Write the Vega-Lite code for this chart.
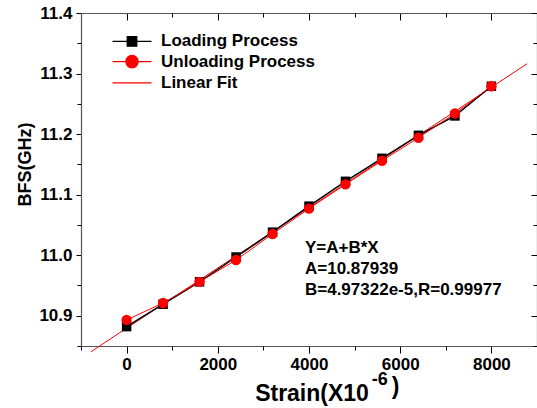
{
  "$schema": "https://vega.github.io/schema/vega-lite/v6.json",
  "width": 456,
  "height": 333,
  "autosize": {"type": "none"},
  "padding": {"left": 81, "top": 13, "right": 0, "bottom": 62},
  "background": "white",
  "config": {
    "view": {"stroke": null},
    "font": "Liberation Sans",
    "axis": {
      "grid": false,
      "labelFont": "Liberation Sans",
      "labelFontWeight": "bold",
      "labelFontSize": 17,
      "labelColor": "black",
      "titleFont": "Liberation Sans",
      "titleFontWeight": "bold",
      "titleColor": "black",
      "tickColor": "black",
      "tickWidth": 1,
      "domainColor": "#555555",
      "domainWidth": 1.2
    }
  },
  "data": {
    "values": [
      {"series": "Loading Process", "strain": 0, "bfs": 10.882},
      {"series": "Loading Process", "strain": 800, "bfs": 10.919},
      {"series": "Loading Process", "strain": 1600, "bfs": 10.956},
      {"series": "Loading Process", "strain": 2400, "bfs": 10.997},
      {"series": "Loading Process", "strain": 3200, "bfs": 11.038},
      {"series": "Loading Process", "strain": 4000, "bfs": 11.081},
      {"series": "Loading Process", "strain": 4800, "bfs": 11.122},
      {"series": "Loading Process", "strain": 5600, "bfs": 11.160},
      {"series": "Loading Process", "strain": 6400, "bfs": 11.198},
      {"series": "Loading Process", "strain": 7200, "bfs": 11.230},
      {"series": "Loading Process", "strain": 8000, "bfs": 11.279},
      {"series": "Unloading Process", "strain": 0, "bfs": 10.893},
      {"series": "Unloading Process", "strain": 800, "bfs": 10.921},
      {"series": "Unloading Process", "strain": 1600, "bfs": 10.956},
      {"series": "Unloading Process", "strain": 2400, "bfs": 10.992},
      {"series": "Unloading Process", "strain": 3200, "bfs": 11.035},
      {"series": "Unloading Process", "strain": 4000, "bfs": 11.077},
      {"series": "Unloading Process", "strain": 4800, "bfs": 11.117},
      {"series": "Unloading Process", "strain": 5600, "bfs": 11.156},
      {"series": "Unloading Process", "strain": 6400, "bfs": 11.194},
      {"series": "Unloading Process", "strain": 7200, "bfs": 11.234},
      {"series": "Unloading Process", "strain": 8000, "bfs": 11.279},
      {"series": "Linear Fit", "strain": -786, "bfs": 10.8403},
      {"series": "Linear Fit", "strain": 8784, "bfs": 11.3163}
    ]
  },
  "layer": [
    {
      "transform": [{"filter": "datum.series === 'Linear Fit'"}],
      "mark": {"type": "line", "strokeWidth": 1, "clip": false},
      "encoding": {
        "x": {
          "field": "strain", "type": "quantitative",
          "scale": {"domain": [-1000, 9000], "nice": false, "zero": false},
          "axis": {
            "orient": "bottom", "values": [0, 2000, 4000, 6000, 8000], "format": "d",
            "tickSize": 7, "labelPadding": 3,
            "title": "Strain(X10", "titleFontSize": 23, "titleBaseline": "alphabetic",
            "titleX": 230.5, "titleY": 54
          }
        },
        "y": {
          "field": "bfs", "type": "quantitative",
          "scale": {"domain": [10.85, 11.4], "nice": false, "zero": false},
          "axis": {
            "orient": "left", "values": [10.9, 11.0, 11.1, 11.2, 11.3, 11.4],
            "format": ".1f", "tickSize": 5, "labelPadding": 4,
            "title": "BFS(GHz)", "titleFontSize": 18, "titleBaseline": "alphabetic",
            "titleX": -50.5, "titleY": 151
          }
        },
        "color": {
          "field": "series", "type": "nominal",
          "scale": {"domain": ["Loading Process", "Unloading Process", "Linear Fit"], "range": ["black", "red", "red"]},
          "legend": {
            "title": null, "orient": "none", "legendX": 40, "legendY": 17.4,
            "padding": 0, "symbolSize": 400, "labelOffset": 18, "rowPadding": 1.2,
            "labelFont": "Liberation Sans", "labelFontWeight": "bold", "labelFontSize": 17,
            "labelColor": "black", "labelLimit": 400,
            "encode": {
              "symbols": {
                "update": {
                  "shape": {"signal": "datum.value === 'Loading Process' ? 'M-1.95,0H1.95M-0.48,-0.48H0.48V0.48H-0.48Z' : datum.value === 'Unloading Process' ? 'M-1.95,0H1.95M-0.62,0A0.62,0.62,0,1,0,0.62,0A0.62,0.62,0,1,0,-0.62,0Z' : 'M-1.95,0H1.95'"},
                  "fill": {"scale": "color", "field": "value"},
                  "stroke": {"scale": "color", "field": "value"},
                  "strokeWidth": {"value": 1.2},
                  "size": {"value": 400},
                  "opacity": {"value": 1}
                }
              }
            }
          }
        }
      }
    },
    {
      "transform": [{"filter": "datum.series === 'Loading Process'"}],
      "mark": {"type": "line", "strokeWidth": 1.5},
      "encoding": {
        "x": {
          "field": "strain", "type": "quantitative",
          "scale": {"domain": [-1000, 9000], "nice": false, "zero": false},
          "axis": {"orient": "bottom", "values": [-1000, 1000, 3000, 5000, 7000], "tickSize": 4, "labels": false, "domain": false, "title": null}
        },
        "y": {
          "field": "bfs", "type": "quantitative",
          "scale": {"domain": [10.85, 11.4], "nice": false, "zero": false},
          "axis": {"orient": "left", "values": [10.85, 10.95, 11.05, 11.15, 11.25, 11.35], "tickSize": 4, "labels": false, "domain": false, "title": null}
        },
        "color": {"field": "series", "type": "nominal"}
      }
    },
    {
      "transform": [{"filter": "datum.series === 'Loading Process'"}],
      "mark": {"type": "point", "shape": "square", "filled": true, "size": 90, "opacity": 1},
      "encoding": {
        "x": {
          "field": "strain", "type": "quantitative",
          "scale": {"domain": [-1000, 9000], "nice": false, "zero": false},
          "axis": {"orient": "top", "values": [0, 2000, 4000, 6000, 8000], "tickSize": -7, "labels": false, "title": null}
        },
        "y": {
          "field": "bfs", "type": "quantitative",
          "scale": {"domain": [10.85, 11.4], "nice": false, "zero": false},
          "axis": {"orient": "right", "values": [10.9, 11.0, 11.1, 11.2, 11.3, 11.4], "tickSize": -6, "labels": false, "title": null}
        },
        "color": {"field": "series", "type": "nominal"}
      }
    },
    {
      "transform": [{"filter": "datum.series === 'Unloading Process'"}],
      "mark": {"type": "line", "strokeWidth": 1},
      "encoding": {
        "x": {
          "field": "strain", "type": "quantitative",
          "scale": {"domain": [-1000, 9000], "nice": false, "zero": false},
          "axis": {"orient": "top", "values": [-1000, 1000, 3000, 5000, 7000], "tickSize": -4, "labels": false, "domain": false, "title": null}
        },
        "y": {
          "field": "bfs", "type": "quantitative",
          "scale": {"domain": [10.85, 11.4], "nice": false, "zero": false},
          "axis": {"orient": "right", "values": [10.85, 10.95, 11.05, 11.15, 11.25, 11.35], "tickSize": -4, "labels": false, "domain": false, "title": null}
        },
        "color": {"field": "series", "type": "nominal"}
      }
    },
    {
      "transform": [{"filter": "datum.series === 'Unloading Process'"}],
      "mark": {"type": "point", "shape": "circle", "filled": true, "size": 107, "opacity": 1},
      "encoding": {
        "x": {"field": "strain", "type": "quantitative", "scale": {"domain": [-1000, 9000], "nice": false, "zero": false}, "axis": null},
        "y": {"field": "bfs", "type": "quantitative", "scale": {"domain": [10.85, 11.4], "nice": false, "zero": false}, "axis": null},
        "color": {"field": "series", "type": "nominal"}
      }
    },
    {
      "data": {"values": [{"label": "Y=A+B*X\nA=10.87939\nB=4.97322e-5,R=0.99977"}]},
      "mark": {
        "type": "text", "align": "left", "baseline": "middle", "lineBreak": "\n", "lineHeight": 21,
        "font": "Liberation Sans", "fontWeight": "bold", "fontSize": 17, "fill": "black"
      },
      "encoding": {
        "x": {"datum": 3912, "type": "quantitative", "axis": null},
        "y": {"datum": 11.012, "type": "quantitative", "axis": null},
        "text": {"field": "label"}
      }
    },
    {
      "data": {"values": [{"label": "-6"}]},
      "mark": {
        "type": "text", "align": "left", "baseline": "alphabetic", "clip": false,
        "font": "Liberation Sans", "fontWeight": "bold", "fontSize": 18, "fill": "black"
      },
      "encoding": {
        "x": {"datum": 5375, "type": "quantitative", "axis": null},
        "y": {"datum": 10.7856, "type": "quantitative", "axis": null},
        "text": {"field": "label"}
      }
    },
    {
      "data": {"values": [{"label": ")"}]},
      "mark": {
        "type": "text", "align": "left", "baseline": "alphabetic", "clip": false,
        "font": "Liberation Sans", "fontWeight": "bold", "fontSize": 23, "fill": "black"
      },
      "encoding": {
        "x": {"datum": 5814, "type": "quantitative", "axis": null},
        "y": {"datum": 10.7707, "type": "quantitative", "axis": null},
        "text": {"field": "label"}
      }
    }
  ],
  "resolve": {"axis": {"x": "independent", "y": "independent"}}
}
